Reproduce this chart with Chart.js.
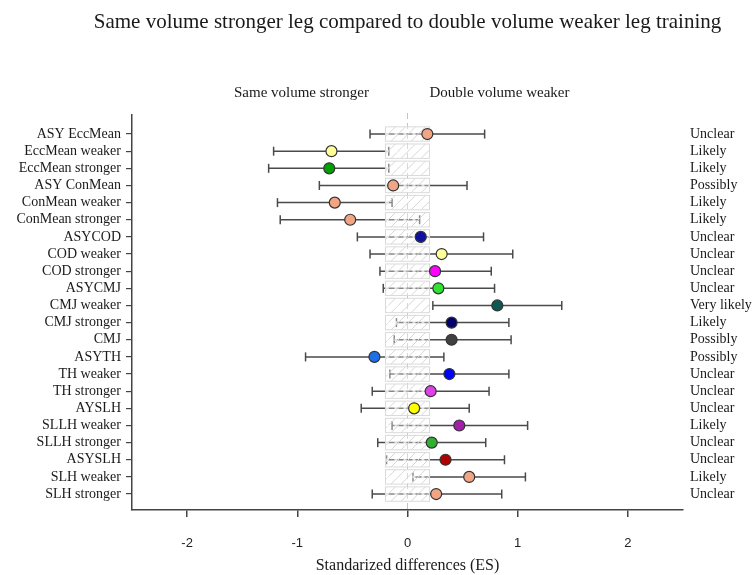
<!DOCTYPE html>
<html>
<head>
<meta charset="utf-8">
<script src="https://cdn.jsdelivr.net/npm/chart.js@4"></script>
<style>
  html, body { margin: 0; padding: 0; background: #fff; }
  #wrap { width: 752px; height: 575px; }
</style>
</head>
<body>
<div id="wrap"><canvas id="c" width="752" height="575"></canvas></div>
<script>
const categories = ["ASY EccMean","EccMean weaker","EccMean stronger","ASY ConMean","ConMean weaker","ConMean stronger","ASYCOD","COD weaker","COD stronger","ASYCMJ","CMJ weaker","CMJ stronger","CMJ","ASYTH","TH weaker","TH stronger","AYSLH","SLLH weaker","SLLH stronger","ASYSLH","SLH weaker","SLH stronger"];
const effect = [0.18,-0.69,-0.71,-0.13,-0.66,-0.52,0.12,0.31,0.25,0.28,0.815,0.40,0.40,-0.30,0.38,0.21,0.06,0.47,0.22,0.345,0.56,0.26];
const lower  = [-0.34,-1.215,-1.26,-0.80,-1.18,-1.155,-0.455,-0.34,-0.25,-0.22,0.23,-0.10,-0.12,-0.925,-0.16,-0.32,-0.42,-0.14,-0.27,-0.19,0.05,-0.32];
const upper  = [0.70,-0.17,-0.17,0.54,-0.14,0.11,0.69,0.955,0.76,0.79,1.40,0.92,0.94,0.33,0.92,0.74,0.56,1.09,0.71,0.88,1.07,0.855];
const inference = ["Unclear","Likely","Likely","Possibly","Likely","Likely","Unclear","Unclear","Unclear","Unclear","Very likely","Likely","Possibly","Possibly","Unclear","Unclear","Unclear","Likely","Unclear","Unclear","Likely","Unclear"];
const pointColors = ["#F2A584","#FFFF99","#00A000","#F2A584","#F2A584","#F2A584","#1010A0","#FFFF99","#FF00FF","#33E033","#0B5A52","#000070","#404040","#1E6FE8","#0000FF","#E040E8","#FFFF00","#A020A8","#30B030","#B00000","#F2A584","#F2A584"];
const xTicks = [-2,-1,0,1,2];
const trivialZone = [-0.2, 0.2];

const SERIF = "'Liberation Serif', 'Times New Roman', serif";
const SANS = "'Liberation Sans', Arial, sans-serif";
const AXIS = '#444';

const errorSets = categories.map((c, i) => ({
  type: 'scatter',
  label: c,
  data: [{x: lower[i], y: i}, {x: upper[i], y: i}],
  showLine: true,
  borderColor: '#4a4a4a',
  borderWidth: 1.5,
  pointStyle: 'line',
  rotation: 90,
  pointRadius: 4.5,
  pointBorderColor: '#4a4a4a',
  pointBorderWidth: 1.5,
  order: 1
}));

const pointSet = {
  type: 'scatter',
  label: 'ES',
  data: categories.map((c, i) => ({x: effect[i], y: i})),
  backgroundColor: pointColors,
  borderColor: '#333',
  borderWidth: 1.2,
  pointRadius: 5.5,
  order: 0
};
const POINT_INDEX = errorSets.length;

const overlay = {
  id: 'overlay',
  beforeDatasetsDraw(chart) {
    const {ctx, chartArea, scales: {x}} = chart;
    const zx = x.getPixelForValue(0);
    ctx.save();
    ctx.strokeStyle = '#c4c4c4';
    ctx.lineWidth = 1;
    ctx.setLineDash([6, 4]);
    ctx.beginPath();
    ctx.moveTo(zx, chartArea.top - 2);
    ctx.lineTo(zx, chartArea.bottom);
    ctx.stroke();
    ctx.restore();
  },
  beforeDatasetDraw(chart, args) {
    if (args.index !== POINT_INDEX) return;
    const {ctx, scales: {x, y}} = chart;
    const x0 = x.getPixelForValue(trivialZone[0]);
    const x1 = x.getPixelForValue(trivialZone[1]);
    ctx.save();
    categories.forEach((c, i) => {
      const yt = y.getPixelForValue(i - 0.42);
      const yb = y.getPixelForValue(i + 0.42);
      const top = Math.min(yt, yb), h = Math.abs(yb - yt);
      ctx.save();
      ctx.fillStyle = 'rgba(255,255,255,0.35)';
      ctx.fillRect(x0, top, x1 - x0, h);
      ctx.beginPath();
      ctx.rect(x0, top, x1 - x0, h);
      ctx.clip();
      ctx.strokeStyle = '#d6d6d6';
      ctx.lineWidth = 1;
      ctx.beginPath();
      for (let s = x0 - h; s < x1 + h; s += 10) {
        ctx.moveTo(s, top + h);
        ctx.lineTo(s + h, top);
      }
      ctx.stroke();
      const yc = y.getPixelForValue(i);
      ctx.strokeStyle = 'rgba(255,255,255,0.7)';
      ctx.lineWidth = 2.5;
      ctx.setLineDash([3, 6]);
      ctx.beginPath();
      ctx.moveTo(x0, yc);
      ctx.lineTo(x1, yc);
      ctx.stroke();
      ctx.restore();
      ctx.strokeStyle = '#dadada';
      ctx.lineWidth = 1;
      ctx.strokeRect(x0, top, x1 - x0, h);
    });
    ctx.restore();
  },
  afterDraw(chart) {
    const {ctx, chartArea, scales: {x}} = chart;
    ctx.save();
    ctx.fillStyle = '#1a1a1a';
    ctx.textBaseline = 'middle';
    ctx.font = '21px ' + SERIF;
    ctx.textAlign = 'center';
    ctx.fillText('Same volume stronger leg compared to double volume weaker leg training', (chartArea.left + chartArea.right) / 2, 22);
    ctx.font = '15px ' + SERIF;
    ctx.textAlign = 'right';
    ctx.fillText('Same volume stronger', x.getPixelForValue(-0.35), 93);
    ctx.textAlign = 'left';
    ctx.fillText('Double volume weaker', x.getPixelForValue(0.2), 93);
    ctx.restore();
  }
};

const yCommon = {
  type: 'linear',
  reverse: true,
  min: -1.11,
  max: 21.93,
  afterBuildTicks: (axis) => { axis.ticks = categories.map((c, i) => ({value: i})); }
};

new Chart(document.getElementById('c'), {
  type: 'scatter',
  data: { datasets: [...errorSets, pointSet] },
  plugins: [overlay],
  options: {
    responsive: false,
    animation: false,
    events: [],
    layout: { padding: { top: 115, left: 0, right: 0, bottom: 0 } },
    plugins: { legend: { display: false }, tooltip: { enabled: false }, title: { display: false } },
    scales: {
      x: {
        type: 'linear',
        min: -2.5,
        max: 2.5,
        afterBuildTicks: (axis) => { axis.ticks = xTicks.map(v => ({value: v})); },
        afterFit: (axis) => { axis.height = 65; },
        border: { display: true, color: AXIS, width: 1.5 },
        grid: { display: true, drawOnChartArea: false, drawTicks: true, tickLength: 7, color: AXIS, lineWidth: 1.5 },
        ticks: { color: '#222', font: { family: SANS, size: 13 }, padding: 19 },
        title: { display: true, text: 'Standarized differences (ES)', color: '#1a1a1a', font: { family: SERIF, size: 16 }, padding: { top: 0, bottom: 0 } }
      },
      y: Object.assign({}, yCommon, {
        position: 'left',
        afterFit: (axis) => { axis.width = 132; },
        border: { display: true, color: AXIS, width: 1.5 },
        grid: { display: true, drawOnChartArea: false, drawTicks: true, tickLength: 6, color: AXIS, lineWidth: 1.2 },
        ticks: { autoSkip: false, color: '#1a1a1a', font: { family: SERIF, size: 14 }, padding: 5,
                 callback: (v) => categories[v] }
      }),
      yRight: Object.assign({}, yCommon, {
        position: 'right',
        afterFit: (axis) => { axis.width = 69; },
        border: { display: false },
        grid: { display: false, drawTicks: false },
        ticks: { autoSkip: false, color: '#1a1a1a', font: { family: SERIF, size: 14 }, padding: 7,
                 callback: (v) => inference[v] }
      })
    }
  }
});
</script>
</body>
</html>
